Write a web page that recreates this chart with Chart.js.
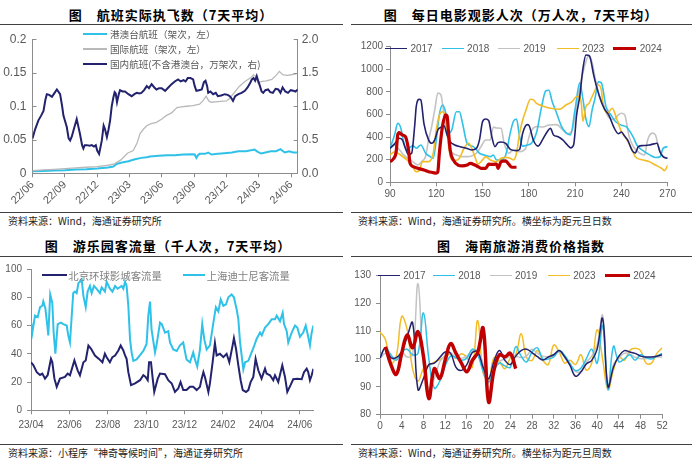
<!DOCTYPE html>
<html><head><meta charset="utf-8">
<script src="https://cdn.jsdelivr.net/npm/chart.js@4.4.1/dist/chart.umd.min.js"></script>
<style>
html,body{margin:0;padding:0;background:#fff;}
#wrap{position:relative;width:700px;height:464px;overflow:hidden;background:#fff;font-family:"Noto Sans CJK SC",sans-serif;}
.title{position:absolute;font-weight:700;font-size:13px;letter-spacing:1px;color:#000;white-space:nowrap;transform:translate(-50%,-50%);line-height:1;}
.hr{position:absolute;height:0;border-top:1px solid #404040;}
.src{position:absolute;font-size:10px;color:#222;white-space:nowrap;transform:translateY(-50%);line-height:1;}
canvas{position:absolute;}
.lgl{position:absolute;}
.lgt{position:absolute;white-space:nowrap;line-height:1;transform:translateY(-50%);}
</style></head>
<body><div id="wrap">
<div class="title" style="left:171px;top:14px">图　航班实际执飞数（7天平均）</div>
<div class="title" style="left:521px;top:14px">图　每日电影观影人次（万人次，7天平均）</div>
<div class="title" style="left:168px;top:245px">图　游乐园客流量（千人次，7天平均）</div>
<div class="title" style="left:521px;top:245px">图　海南旅游消费价格指数</div>
<div class="hr" style="left:0;top:24px;width:343px"></div>
<div class="hr" style="left:351px;top:24px;width:341px"></div>
<div class="hr" style="left:0;top:212px;width:343px"></div>
<div class="hr" style="left:351px;top:212px;width:341px"></div>
<div class="hr" style="left:0;top:256px;width:343px"></div>
<div class="hr" style="left:351px;top:256px;width:341px"></div>
<div class="hr" style="left:0;top:444px;width:343px"></div>
<div class="hr" style="left:351px;top:444px;width:341px"></div>
<div class="src" style="left:8px;top:221px">资料来源：Wind，海通证券研究所</div>
<div class="src" style="left:358px;top:221px">资料来源：Wind，海通证券研究所。横坐标为距元旦日数</div>
<div class="src" style="left:8px;top:453px">资料来源：小程序“神奇等候时间”，海通证券研究所</div>
<div class="src" style="left:358px;top:453px">资料来源：Wind，海通证券研究所。横坐标为距元旦周数</div>
<canvas id="c1" width="345" height="186" style="left:0;top:26px;width:345px;height:186px"></canvas>
<canvas id="c2" width="350" height="186" style="left:350px;top:26px;width:350px;height:186px"></canvas>
<canvas id="c3" width="345" height="186" style="left:0;top:258px;width:345px;height:186px"></canvas>
<canvas id="c4" width="350" height="186" style="left:350px;top:258px;width:350px;height:186px"></canvas>
</div>
<script>
// ---------- Panel 1: flights (x = months since 2022/06) ----------
const flightXLabels = ['22/06','22/09','22/12','23/03','23/06','23/09','23/12','24/03','24/06'];
const flightLeftLabels = ['0','0.05','0.1','0.15','0.2'];
const flightRightLabels = ['0.0','0.5','1.0','1.5','2.0'];
const flightNames = ['港澳台航班（架次，左）','国际航班（架次，左）','国内航班(不含港澳台，万架次，右)'];
const hkmoTwFlights = [[0,0.003],[1,0.0035],[2,0.004],[3,0.0045],[4,0.0055],[5,0.006],[6,0.007],[7,0.0085],[7.5,0.01],[7.8,0.014],[8.3,0.016],[8.9,0.018],[9.5,0.021],[10.1,0.023],[10.6,0.024],[10.9,0.025],[11.7,0.026],[12.5,0.027],[13.2,0.027],[14,0.028],[14.8,0.0285],[15.05,0.028],[15.2,0.023],[15.35,0.027],[15.5,0.029],[16,0.029],[16.3,0.031],[16.6,0.028],[17.2,0.029],[17.8,0.030],[18.5,0.031],[19.1,0.033],[19.8,0.033],[20.6,0.0354],[20.9,0.032],[21.2,0.0295],[21.6,0.031],[22.1,0.033],[22.6,0.033],[23,0.036],[23.4,0.031],[23.8,0.033],[24.2,0.031],[24.6,0.031]];
const intlFlights = [[0,0.004],[1,0.005],[2,0.006],[3,0.007],[4,0.008],[5,0.009],[6,0.010],[7,0.012],[7.6,0.014],[8.2,0.02],[8.8,0.03],[9.35,0.034],[9.7,0.045],[9.97,0.059],[10.3,0.066],[10.6,0.071],[11,0.074],[11.5,0.076],[12,0.081],[12.4,0.086],[12.9,0.09],[13.4,0.098],[13.8,0.099],[14.3,0.1],[14.9,0.101],[15.5,0.103],[15.8,0.108],[16.1,0.115],[16.35,0.108],[16.6,0.106],[17.2,0.107],[18,0.108],[18.3,0.112],[18.6,0.118],[19.2,0.13],[19.8,0.138],[20.2,0.142],[20.5,0.147],[20.7,0.145],[20.9,0.135],[21.3,0.137],[21.7,0.138],[22.2,0.14],[22.6,0.146],[22.9,0.152],[23.2,0.147],[23.6,0.146],[24.0,0.147],[24.6,0.149]];
const domesticFlights = [[0,0.52],[0.25,0.66],[0.55,0.79],[0.8,0.86],[1.02,0.93],[1.2,1.1],[1.33,1.18],[1.55,1.17],[1.8,1.14],[2.05,1.2],[2.26,1.25],[2.56,1.18],[2.75,1.0],[2.87,0.86],[3.18,0.69],[3.35,0.52],[3.49,0.49],[3.65,0.55],[3.8,0.64],[4.1,0.81],[4.25,0.7],[4.4,0.59],[4.6,0.42],[4.72,0.37],[4.85,0.42],[5.04,0.42],[5.3,0.41],[5.5,0.42],[5.7,0.4],[5.87,0.42],[6.0,0.34],[6.18,0.29],[6.43,0.49],[6.6,0.71],[6.72,0.66],[6.9,0.54],[7.05,0.65],[7.2,0.79],[7.35,1.0],[7.5,1.13],[7.62,1.21],[7.72,1.19],[7.84,1.06],[8.0,1.18],[8.12,1.24],[8.35,1.22],[8.58,1.22],[8.9,1.18],[9.2,1.15],[9.45,1.18],[9.67,1.2],[9.9,1.19],[10.1,1.2],[10.35,1.24],[10.6,1.3],[10.8,1.27],[11.05,1.33],[11.3,1.28],[11.5,1.25],[11.75,1.27],[11.98,1.27],[12.3,1.23],[12.6,1.28],[12.9,1.33],[13.2,1.37],[13.5,1.4],[13.75,1.37],[14,1.39],[14.2,1.37],[14.4,1.42],[14.65,1.42],[14.9,1.4],[15.05,1.3],[15.2,1.23],[15.45,1.24],[15.7,1.25],[15.9,1.36],[16.05,1.38],[16.2,1.3],[16.3,1.2],[16.5,1.22],[16.76,1.18],[17.0,1.2],[17.2,1.15],[17.5,1.16],[17.84,1.18],[18.1,1.17],[18.3,1.15],[18.45,1.12],[18.6,1.08],[18.8,1.15],[19.1,1.18],[19.4,1.2],[19.7,1.23],[19.95,1.28],[20.2,1.35],[20.35,1.4],[20.5,1.42],[20.65,1.38],[20.8,1.45],[20.95,1.37],[21.1,1.3],[21.25,1.22],[21.4,1.2],[21.6,1.24],[21.85,1.25],[22.05,1.21],[22.3,1.2],[22.55,1.26],[22.8,1.25],[23.0,1.2],[23.2,1.28],[23.45,1.22],[23.7,1.2],[23.95,1.24],[24.2,1.23],[24.4,1.22],[24.6,1.25]];

// ---------- Panel 2: cinema admissions (x = days since Jan 1) ----------
const movieXLabels = ['90','120','150','180','210','240','270'];
const movieYLabels = ['0','200','400','600','800','1000','1200'];
const movieYears = ['2017','2018','2019','2023','2024'];
const movie2017 = [[90,300],[93,340],[96,390],[98,375],[100,300],[102,245],[104,257],[106,500],[107,670],[109,735],[110,729],[112,520],[115,375],[117,345],[119,375],[121,463],[123,487],[125,499],[127,420],[129,360],[132,330],[135,316],[140,300],[143,286],[146,300],[148,375],[150,537],[152,560],[154,545],[156,404],[158,316],[160,351],[162,357],[165,345],[168,292],[172,280],[174,290],[176,434],[179,510],[180,505],[183,370],[186,320],[189,380],[192,450],[194,478],[196,419],[199,404],[202,375],[205,330],[207,305],[209,330],[211,600],[213,760],[215,1000],[217,1127],[219,1120],[220,1090],[222,950],[224,840],[227,710],[229,650],[232,590],[235,490],[238,430],[240,445],[242,410],[244,375],[247,280],[249,260],[251,316],[254,325],[258,330],[261,340],[263,345],[265,270],[267,227],[270,212]];
const movie2018 = [[90,300],[93,420],[95,522],[97,480],[99,350],[101,286],[103,310],[105,322],[107,301],[110,330],[113,260],[116,227],[118,212],[120,375],[122,600],[124,684],[126,620],[128,434],[130,463],[133,625],[135,625],[137,522],[140,345],[144,316],[148,257],[151,242],[155,227],[157,242],[159,198],[162,200],[165,242],[168,440],[170,540],[172,560],[174,404],[176,320],[179,330],[182,350],[185,440],[188,650],[191,810],[193,815],[195,720],[198,611],[201,500],[204,440],[207,420],[210,650],[213,880],[215,740],[217,560],[219,493],[221,640],[223,750],[225,890],[227,880],[230,670],[233,600],[236,540],[240,505],[243,493],[246,440],[248,390],[250,330],[254,280],[258,245],[262,220],[265,225],[267,300],[270,315]];
const movie2019 = [[90,300],[93,330],[96,290],[99,240],[103,198],[106,170],[108,153],[111,190],[113,227],[115,375],[117,493],[119,640],[121,790],[123,773],[125,600],[127,430],[129,286],[133,242],[137,227],[140,227],[143,233],[146,257],[149,316],[152,375],[155,375],[157,490],[159,480],[162,478],[164,345],[167,257],[170,286],[174,271],[178,301],[181,440],[185,493],[189,490],[193,507],[198,510],[202,463],[205,430],[208,455],[211,670],[213,850],[215,965],[217,1068],[219,1127],[221,1060],[223,920],[225,800],[228,699],[231,590],[235,555],[238,596],[240,611],[242,600],[245,404],[248,310],[252,257],[255,242],[257,375],[260,435],[262,420],[264,316],[266,242],[270,210]];
const movie2023 = [[90,242],[93,271],[96,250],[98,230],[101,198],[104,153],[107,94],[109,103],[111,183],[115,183],[118,257],[120,463],[122,596],[124,625],[126,581],[128,316],[130,198],[132,192],[135,212],[138,301],[141,345],[143,301],[145,227],[147,162],[150,198],[152,227],[155,198],[159,183],[162,212],[165,221],[168,212],[170,198],[172,257],[174,434],[176,552],[178,634],[181,735],[183,729],[185,699],[189,676],[194,655],[200,646],[204,684],[208,714],[211,758],[213,758],[214,699],[215,540],[217,670],[219,699],[222,788],[225,861],[227,817],[228,699],[231,611],[234,655],[237,560],[240,448],[243,389],[246,316],[249,227],[254,198],[258,183],[262,153],[266,124],[268,103],[270,153]];
const movie2024 = [[90,183],[92,204],[94,271],[95,419],[96,440],[98,419],[100,404],[102,286],[103,168],[105,139],[108,124],[112,109],[115,94],[118,86],[120,80],[121,94],[122,257],[124,493],[126,596],[127,587],[128,434],[129,286],[131,198],[134,153],[137,145],[140,153],[142,168],[145,153],[147,139],[149,124],[152,124],[154,160],[157,159],[159,162],[160,124],[162,183],[165,189],[167,160],[169,133],[172,133]];

// ---------- Panel 3: theme parks (x = months since 2023/04) ----------
const parkXLabels = ['23/04','23/06','23/08','23/10','23/12','24/02','24/04','24/06'];
const parkYLabels = ['0','20','40','60','80','100'];
const parkNames = ['北京环球影城客流量','上海迪士尼客流量'];
const beijingUniversal = [[0,34],[0.12,32],[0.3,27],[0.47,25],[0.59,26],[0.73,22.4],[0.87,25],[1.04,36.4],[1.11,34],[1.22,22.4],[1.34,16.6],[1.51,22.4],[1.77,23.6],[1.91,26],[2.03,24.8],[2.26,35.3],[2.43,28.3],[2.55,24.8],[2.73,34],[2.85,35.3],[2.99,45.8],[3.13,43.5],[3.33,38.8],[3.54,36.4],[3.72,34],[3.85,40],[3.94,37.6],[4.11,34],[4.24,37.6],[4.38,38.8],[4.55,42.3],[4.67,45.8],[4.81,42.3],[4.9,38.8],[4.98,36.4],[5.07,27],[5.21,17.8],[5.42,19],[5.68,21.3],[5.85,24.8],[5.97,23.6],[6.08,21.3],[6.15,34],[6.25,34],[6.34,22.4],[6.42,13],[6.6,22.4],[6.72,26],[6.98,25.5],[7.15,21.3],[7.33,19],[7.5,13],[7.67,15.4],[7.79,20],[7.93,14.3],[8.1,14.3],[8.28,16.6],[8.45,16.6],[8.63,14.3],[8.8,16.6],[8.89,22.4],[8.98,27],[9.06,23.6],[9.24,13],[9.32,19],[9.46,34],[9.58,47.6],[9.67,38.8],[9.84,40],[10.02,37.6],[10.19,40],[10.33,34],[10.5,45.8],[10.57,51],[10.68,43.4],[10.8,31.8],[10.92,21.3],[11.03,14.3],[11.2,13],[11.32,14.3],[11.44,20],[11.58,23.6],[11.7,36.4],[11.84,28.3],[12.01,22.4],[12.19,29.4],[12.27,26],[12.45,24.8],[12.62,21.3],[12.71,24.8],[12.88,20],[13.09,31.8],[13.23,23.6],[13.35,13],[13.52,17.8],[13.66,22],[13.87,22.4],[14.1,22],[14.22,27],[14.36,29.4],[14.44,27],[14.53,21.3],[14.62,24.8],[14.71,29.4]];
const shanghaiDisney = [[0,63],[0.07,55],[0.21,67],[0.35,66],[0.47,73],[0.59,74],[0.64,77],[0.75,72],[0.85,60],[0.9,53],[1.0,82],[1.11,76],[1.18,55],[1.27,40],[1.39,61],[1.56,62],[1.68,61],[1.86,60],[1.94,53],[2.03,48],[2.2,83],[2.29,84],[2.38,83],[2.47,90],[2.55,91],[2.64,92.5],[2.73,81],[2.85,73],[2.95,84],[3.07,88],[3.16,83],[3.28,88],[3.42,86],[3.59,83],[3.68,87],[3.85,84],[3.94,91],[4.11,86],[4.24,84],[4.38,88],[4.51,86],[4.72,88],[4.81,86],[4.9,91],[4.98,88],[5.07,74],[5.16,50],[5.24,41],[5.33,35],[5.5,36],[5.68,39],[5.85,42],[6.02,47],[6.11,67],[6.2,77],[6.28,57],[6.46,41],[6.55,47],[6.72,62],[6.81,61],[6.98,55],[7.15,56],[7.24,48],[7.41,43],[7.59,42],[7.76,46],[7.93,48],[8.1,36],[8.28,34],[8.45,41],[8.54,36],[8.66,31],[8.8,43],[8.92,61],[9.03,50],[9.15,43],[9.32,46],[9.5,62],[9.63,73],[9.76,70],[9.88,78.5],[10.02,74],[10.16,75],[10.28,80],[10.45,82],[10.57,80],[10.71,71.5],[10.8,64.5],[10.89,48],[10.97,39],[11.06,29],[11.15,34],[11.32,35],[11.49,41],[11.61,45],[11.75,50.5],[11.93,55],[12.02,53],[12.19,58.6],[12.36,61],[12.54,64.5],[12.71,64.5],[12.8,67],[12.97,63],[13.11,69],[13.18,61],[13.32,56],[13.4,48],[13.58,55],[13.75,60],[13.87,58.6],[14.01,52],[14.18,55],[14.31,60],[14.44,52],[14.53,46],[14.62,55],[14.71,60]];

// ---------- Panel 4: Hainan tourism CPI (x = weeks since Jan 1) ----------
const hainanXLabels = ['0','4','8','12','16','20','24','28','32','36','40','44','48','52'];
const hainanYLabels = ['80','90','100','110','120','130'];
const hainanYears = ['2017','2018','2019','2023','2024'];
const hainanWeeks = [0,1,2,3,4,5,6,7,8,9,10,11,12,13,14,15,16,17,18,19,20,21,22,23,24,25,26,27,28,29,30,31,32,33,34,35,36,37,38,39,40,41,42,43,44,45,46,47,48,49,50,51,52];
const hainan2017 = [100.3,104,100.5,100.5,102.5,108,113,89,93,98,98.5,100.5,102.5,102,97,95.9,98,102.3,102.5,97,92.9,99.2,103,99.5,98,101,103,103.5,102.3,100.8,99.6,100.7,101.5,103,100.8,97.7,93.8,95.3,98.2,99.5,103.5,114.5,90,97,101,103,102.5,102,101,100.7,100.7,101,101.5];
const hainan2018 = [100.5,104,101.5,99.5,102.5,103.5,101.5,102,116.5,100,89.5,92,97.5,101,100.5,99.5,100.3,103.5,101.5,95.5,91.8,96,98.5,97.5,97,104.4,101,98.9,102.5,104,100,100,100.7,103,101.3,98.3,95.8,96.7,100,103.5,98.5,112,89,104.5,99,100,101.5,99.5,101.5,100.5,100,101,102];
const hainan2019 = [100.1,102,100.1,100.1,102.5,100.7,101.5,127,97.7,89.3,92.9,98.9,101.3,102.3,100.3,100.2,101,103,102.8,98.3,91.5,96,99,100,101,101,100.5,101,103.5,102,101,100.7,101.2,102.5,100.7,98.3,95.5,95.6,98.8,101,105,115.6,90,98,100.3,102,101.8,100.6,100.1,100.1,100.5,100.7,100.7];
const hainan2023 = [109.7,107,98.5,101,115.2,110.5,96.5,92,96.5,97.8,98.8,99.8,100.6,101.8,100.2,101.9,100.5,97,113.8,95,92.5,100.5,99,96.5,100.3,101.5,109,100.5,99.5,103,99.5,98,105,102.5,98.5,99.5,98,101.5,96,98.5,110.5,100,89,96,100.8,99.5,103,103.8,103,98.5,98.5,102,104];
const hainan2024 = [null,104.4,98,94.5,102,108.6,104,109.8,101,85.8,96.5,93,99.5,105.5,102,98.5,95.4,99.5,102.3,111,84.6,96,101.5,100.8,102,96.5];

// ---------- helpers ----------
const AX = '#8c8c8c', TX = '#595959', NUM = "'Liberation Sans', Arial, sans-serif";
const NAVY = '#22226e', CYAN = '#2fc1e8', GRAY = '#b9b9b9', GOLD = '#f2bd26', RED = '#c00000';

function sc(o){
  return {
    type:'linear', position:o.pos, min:o.min, max:o.max, bounds:'data',
    grid:{display:true, drawOnChartArea:false, drawTicks:o.tl>0, tickLength:o.tl||0, color:AX, lineWidth:1},
    border:{display:true, color:AX, width:1},
    ticks:{color:TX, font:{family:NUM, size:o.fs}, padding:o.pad, autoSkip:false,
      maxRotation:o.rot||0, minRotation:o.rot||0, callback:(v,i)=>o.labels[i]},
    afterBuildTicks:s=>{ s.ticks = o.labels.map((l,i)=>({value:o.start+i*o.step})); },
    afterFit:s=>{ if(o.w!=null) s.width=o.w; if(o.h!=null) s.height=o.h; }
  };
}
function ds(label, data, color, width, extra){
  return Object.assign({label, data, borderColor:color, backgroundColor:color, borderWidth:width,
    pointRadius:0, pointHoverRadius:0, fill:false, tension:0, spanGaps:true}, extra||{});
}
function mk(id, datasets, scales, padding, plugins){
  return new Chart(document.getElementById(id), {
    type:'line', data:{datasets},
    options:{responsive:false, animation:false, devicePixelRatio:1, layout:{padding},
      plugins:{legend:{display:false}, tooltip:{enabled:false}}, scales},
    plugins:plugins||[]
  });
}
function legendItem(x, y, len, lw, color, text, font, textColor, gap){
  const w = document.getElementById('wrap');
  const l = document.createElement('div');
  l.className = 'lgl';
  l.style.cssText = `left:${x}px;top:${y-lw/2}px;width:${len}px;height:${lw}px;background:${color}`;
  w.appendChild(l);
  const t = document.createElement('div');
  t.className = 'lgt';
  t.textContent = text;
  t.style.cssText += `left:${x+len+gap}px;top:${y}px;font:${font};color:${textColor}`;
  w.appendChild(t);
}
const innerTicks = {
  id:'innerTicks',
  afterDraw(chart){
    const ctx = chart.ctx;
    ['y','y1'].forEach(id=>{
      const s = chart.scales[id]; if(!s) return;
      ctx.save(); ctx.strokeStyle = AX; ctx.lineWidth = 1;
      s.ticks.forEach(t=>{
        const y = Math.round(s.getPixelForValue(t.value)) + 0.5;
        const x0 = id==='y' ? s.right : s.left;
        const d = id==='y' ? 1 : -1;
        ctx.beginPath(); ctx.moveTo(x0, y); ctx.lineTo(x0 + d*4, y); ctx.stroke();
      });
      ctx.restore();
    });
  }
};

// ---------- Chart 1 ----------
mk('c1', [
  ds(flightNames[2], domesticFlights, NAVY, 2, {yAxisID:'y1'}),
  ds(flightNames[1], intlFlights, GRAY, 1.3, {yAxisID:'y'}),
  ds(flightNames[0], hkmoTwFlights, CYAN, 2, {yAxisID:'y'})
], {
  x: sc({pos:'bottom', min:0, max:24.6, labels:flightXLabels, start:0, step:3, fs:11, tl:4, pad:1, rot:45, h:38.7}),
  y: sc({pos:'left', min:0, max:0.2, labels:flightLeftLabels, start:0, step:0.05, fs:12, tl:0, pad:6, w:32.5}),
  y1: sc({pos:'right', min:0, max:2, labels:flightRightLabels, start:0, step:0.5, fs:12, tl:0, pad:4, w:47.3})
}, {top:11.7, right:0, bottom:0, left:0}, [innerTicks]);

// ---------- Chart 2 ----------
const smooth = {cubicInterpolationMode:'monotone'};
mk('c2', [
  ds(movieYears[4], movie2024, RED, 3.2, smooth),
  ds(movieYears[0], movie2017, NAVY, 1.6, smooth),
  ds(movieYears[3], movie2023, GOLD, 1.6, smooth),
  ds(movieYears[1], movie2018, CYAN, 1.6, smooth),
  ds(movieYears[2], movie2019, '#c3c3c3', 1.6, smooth)
], {
  x: sc({pos:'bottom', min:90, max:270, labels:movieXLabels, start:90, step:30, fs:10, tl:4, pad:2, h:29.7}),
  y: sc({pos:'left', min:0, max:1200, labels:movieYLabels, start:0, step:200, fs:10, tl:4, pad:3, w:40})
}, {top:20.7, right:32.3, bottom:0, left:0});

// ---------- Chart 3 ----------
mk('c3', [
  ds(parkNames[0], beijingUniversal, NAVY, 2),
  ds(parkNames[1], shanghaiDisney, CYAN, 2)
], {
  x: sc({pos:'bottom', min:0, max:14.71, labels:parkXLabels, start:0, step:2, fs:10, tl:4, pad:5, h:33.7}),
  y: sc({pos:'left', min:0, max:100, labels:parkYLabels, start:0, step:20, fs:10, tl:4, pad:5, w:31})
}, {top:9.7, right:31.6, bottom:0, left:0});

// ---------- Chart 4 ----------
const toPts = arr => arr.map((v,i)=>[hainanWeeks[i], v]);
const sm4 = {tension:0.4};
mk('c4', [
  ds(hainanYears[4], toPts(hainan2024), RED, 3.5, Object.assign({spanGaps:false}, sm4)),
  ds(hainanYears[0], toPts(hainan2017), NAVY, 1.5, sm4),
  ds(hainanYears[1], toPts(hainan2018), CYAN, 1.5, sm4),
  ds(hainanYears[2], toPts(hainan2019), '#c3c3c3', 1.5, sm4),
  ds(hainanYears[3], toPts(hainan2023), GOLD, 1.5, sm4)
], {
  x: sc({pos:'bottom', min:0, max:52, labels:hainanXLabels, start:0, step:4, fs:10, tl:4, pad:2, h:29.3}),
  y: sc({pos:'left', min:80, max:130, labels:hainanYLabels, start:80, step:10, fs:10, tl:4, pad:5, w:30})
}, {top:17.3, right:37.7, bottom:0, left:0});

// ---------- Legends ----------
const cjkFont = "9.6px 'Noto Sans CJK SC', sans-serif";
legendItem(83, 33.5, 24, 2, CYAN, flightNames[0], cjkFont, TX, 3);
legendItem(83, 49, 24, 1.5, GRAY, flightNames[1], cjkFont, TX, 3);
legendItem(83, 63.5, 24, 2, NAVY, flightNames[2], cjkFont, TX, 3);

const numFont = "10px 'Liberation Sans', Arial, sans-serif";
const movieColors = [NAVY, CYAN, '#c3c3c3', GOLD, RED];
const movieLegX = [385, 441.7, 498, 556.7, 613.3];
movieYears.forEach((y,i)=>legendItem(movieLegX[i], 48.3, i===4?23:22, i===4?3.2:1.6, movieColors[i], y, numFont, TX, 3.4));

const parkFont = "10.4px 'Noto Sans CJK SC', sans-serif";
legendItem(41.7, 275.3, 25, 2, NAVY, parkNames[0], parkFont, '#7f7f7f', 1.6);
legendItem(182.7, 275.3, 22.3, 2, CYAN, parkNames[1], parkFont, '#7f7f7f', 1.7);

const hainanLegX = [378.3, 433.3, 490, 548.3, 605];
hainanYears.forEach((y,i)=>legendItem(hainanLegX[i], 275.3, i===4?25:21.7, i===4?3.5:1.5, movieColors[i], y, numFont, TX, 3.3));
</script>
</body></html>
